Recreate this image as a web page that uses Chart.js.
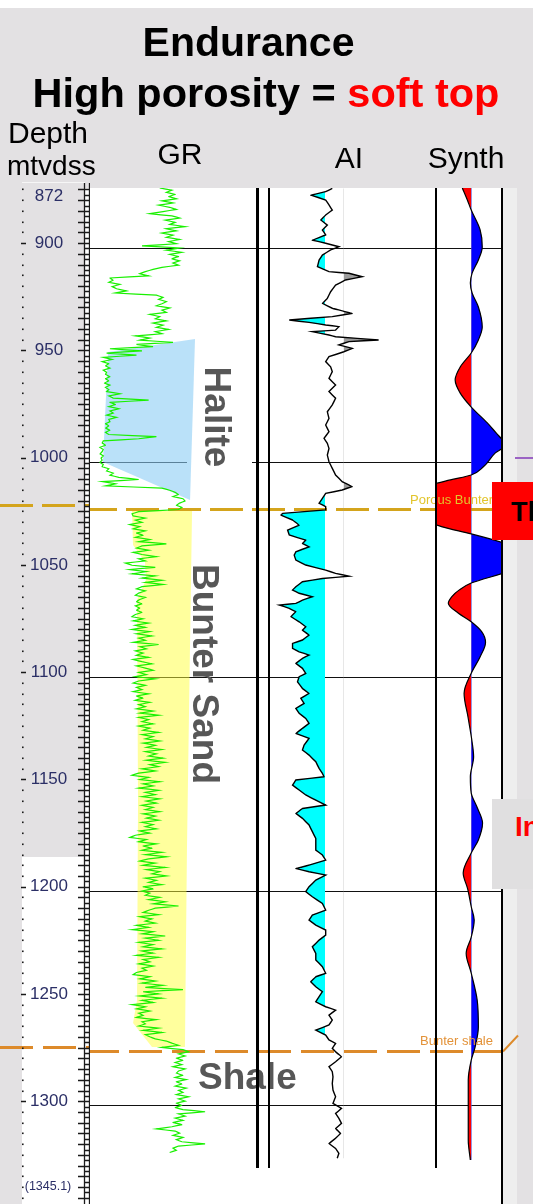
<!DOCTYPE html>
<html lang="en">
<head>
<meta charset="utf-8">
<title>Endurance – High porosity = soft top</title>
<script src="https://cdn.jsdelivr.net/npm/chart.js@4.4.1/dist/chart.umd.min.js"></script>
<style>
  html, body { margin: 0; padding: 0; }
  body { position: relative; width: 533px; height: 1204px; overflow: hidden; background: #e3e1e3;
         font-family: "Liberation Sans", Arial, Helvetica, sans-serif; color: #000; }
  .blk { position: absolute; }
  canvas { position: absolute; z-index: 1; }
  .txt { position: absolute; white-space: nowrap; line-height: 1; z-index: 2; }
  .vline { position: absolute; background: #000; z-index: 3; }
  .box { position: absolute; z-index: 4; overflow: hidden; }
</style>
</head>
<body>
<!-- page furniture -->
<div class="blk" style="left:0;top:0;width:533px;height:8px;background:#fff"></div>
<div class="blk" style="left:85px;top:188px;width:417px;height:1016px;background:#fff"></div>
<div class="blk" style="left:502px;top:188px;width:15px;height:1016px;background:#eeeeee"></div>
<div class="blk" style="left:22px;top:857px;width:63px;height:347px;background:#fff"></div>
<div class="blk" style="left:22px;top:182px;width:63px;height:1px;background:#f6f6f6"></div>

<!-- titles and track headers -->
<div class="txt" style="left:0;top:22px;width:497px;text-align:center;font-size:41px;font-weight:bold">Endurance</div>
<div class="txt" style="left:0;top:72px;width:532px;text-align:center;font-size:41.5px;font-weight:bold">High porosity = <span style="color:#ff0000">soft top</span></div>
<div class="txt" style="left:8px;top:118px;font-size:30px">Depth</div>
<div class="txt" style="left:7px;top:152px;font-size:28px">mtvdss</div>
<div class="txt" style="left:140px;top:139px;width:80px;text-align:center;font-size:30px">GR</div>
<div class="txt" style="left:309px;top:143px;width:80px;text-align:center;font-size:30px">AI</div>
<div class="txt" style="left:416px;top:143px;width:100px;text-align:center;font-size:30px">Synth</div>

<!-- log tracks -->
<canvas id="depthTrack" width="90" height="1204" style="left:0;top:0"></canvas>
<canvas id="grTrack" width="172" height="1016" style="left:90px;top:188px"></canvas>
<canvas id="aiTrack" width="175" height="1016" style="left:262px;top:188px"></canvas>
<canvas id="synthTrack" width="96" height="1016" style="left:437px;top:188px"></canvas>

<!-- zone and top labels -->
<div class="txt" style="left:198px;top:1058px;font-size:37px;font-weight:bold;color:#575757">Shale</div>
<div id="topLabel0" class="txt" style="left:410px;top:493px;font-size:13px;color:#e2c52c">Porous Bunter</div>
<div id="topLabel1" class="txt" style="left:420px;top:1035px;font-size:13px;color:#e39238">Bunter shale</div>

<!-- track frames -->
<div class="vline" style="left:256px;top:188px;width:2.5px;height:980px"></div>
<div class="vline" style="left:267.5px;top:188px;width:2.5px;height:980px"></div>
<div class="vline" style="left:434.5px;top:188px;width:2.5px;height:980px"></div>
<div class="vline" style="left:501px;top:188px;width:1.5px;height:1016px"></div>

<!-- side call-outs -->
<div class="box" style="left:515px;top:457px;width:18px;height:2px;background:#9b63c4"></div>
<div class="box" style="left:492px;top:482px;width:41px;height:58px;background:#ff0000">
  <div class="txt" style="left:19px;top:17px;font-size:27px;font-weight:bold;color:#000">Th</div>
</div>
<div class="box" style="left:492px;top:799px;width:41px;height:90px;background:#e0dfe0">
  <div class="txt" style="left:23px;top:14px;font-size:28px;font-weight:bold;color:#ff0000">In</div>
</div>

<script>
// ---- depth range of the display (m TVDSS) ----
const depthTop = 872;
const depthBottom = 1345.1;

// ---- formation tops ----
const topNames = ['Porous Bunter', 'Bunter shale'];
const topDepths = [1022, 1274.5];

// ---- gamma ray (API), one sample per metre starting at grStart ----
const grStart = 872;
const grStep = 1;
const grValues = [
  63, 74, 69, 77, 71, 78, 65, 75, 62, 72,
  78, 66, 54, 74, 81, 68, 77, 72, 86, 69,
  78, 65, 75, 69, 81, 71, 78, 47, 81, 69,
  83, 72, 80, 74, 81, 75, 80, 65, 57, 50,
  45, 53, 18, 21, 17, 27, 20, 24, 33, 23,
  60, 66, 62, 69, 65, 60, 72, 65, 69, 54,
  63, 59, 69, 57, 66, 60, 71, 59, 65, 41,
  54, 45, 75, 42, 57, 18, 47, 15, 42, 12,
  20, 11, 17, 14, 18, 12, 15, 14, 18, 14,
  17, 13, 18, 14, 17, 15, 27, 17, 21, 53,
  18, 23, 17, 26, 18, 21, 15, 24, 17, 18,
  14, 17, 14, 18, 14, 17, 60, 44, 12, 11,
  14, 9, 12, 11, 9, 12, 10, 11, 9, 12,
  11, 17, 15, 21, 18, 26, 44, 11, 23, 14,
  65, 72, 77, 80, 75, 84, 86, 81, 78, 83,
  80, 44, 38, 39, 50, 41, 47, 36, 45, 39,
  50, 42, 48, 41, 54, 44, 69, 47, 42, 53,
  39, 47, 60, 44, 50, 32, 38, 59, 36, 51,
  38, 59, 47, 65, 50, 66, 47, 42, 50, 44,
  41, 50, 45, 42, 47, 41, 45, 42, 47, 41,
  38, 48, 39, 53, 41, 50, 38, 54, 42, 56,
  44, 50, 39, 62, 45, 51, 41, 48, 42, 53,
  39, 47, 56, 42, 50, 57, 44, 51, 41, 59,
  44, 39, 50, 42, 47, 39, 53, 42, 48, 41,
  54, 44, 50, 42, 57, 45, 62, 44, 53, 47,
  57, 44, 54, 48, 62, 47, 57, 50, 63, 48,
  59, 51, 65, 50, 60, 53, 66, 51, 68, 54,
  62, 47, 59, 44, 38, 53, 45, 63, 48, 57,
  44, 62, 50, 59, 47, 63, 51, 60, 47, 57,
  50, 63, 48, 59, 51, 62, 47, 57, 50, 60,
  45, 54, 41, 36, 51, 44, 60, 48, 56, 47,
  65, 50, 69, 53, 45, 59, 48, 68, 51, 63,
  56, 69, 50, 60, 53, 65, 48, 57, 47, 54,
  50, 63, 53, 68, 57, 80, 59, 53, 48, 62,
  45, 56, 50, 59, 42, 53, 38, 57, 47, 68,
  50, 62, 44, 57, 48, 65, 47, 57, 42, 62,
  48, 54, 44, 57, 47, 51, 42, 39, 54, 45,
  59, 47, 66, 50, 84, 48, 62, 45, 65, 47,
  57, 38, 50, 42, 54, 44, 48, 42, 60, 47,
  50, 44, 62, 48, 65, 50, 54, 59, 69, 74,
  80, 65, 84, 89, 80, 86, 78, 84, 77, 83,
  75, 86, 80, 78, 84, 77, 87, 78, 83, 77,
  87, 80, 84, 78, 89, 80, 86, 78, 83, 77,
  84, 104, 80, 86, 77, 84, 75, 83, 74, 60,
  77, 81, 75, 84, 78, 83, 104, 80, 75, 78,
  72
];

// ---- acoustic impedance ----
const aiDepths = [
  872.2, 873.7, 875.3, 877.6, 879.9, 882.3, 884.6, 886.9, 889.3, 891.6,
  893.9, 896.3, 897.8, 899.4, 900.9, 903.3, 905.6, 908.7, 911.0, 911.8,
  913.4, 914.9, 917.3, 920.4, 923.5, 925.8, 928.1, 930.5, 932.0, 933.6,
  934.7, 935.9, 936.7, 938.3, 939.0, 940.6, 941.4, 942.9, 943.7, 945.2,
  946.8, 948.4, 950.7, 953.0, 955.4, 957.7, 960.8, 963.9, 967.0, 970.1,
  973.2, 976.4, 979.5, 982.6, 985.7, 988.8, 991.1, 993.5, 996.6, 999.7,
  1002.8, 1005.9, 1009.0, 1011.3, 1012.9, 1014.5, 1016.8, 1019.1, 1020.7, 1022.2,
  1023.8, 1024.6, 1026.9, 1029.3, 1031.6, 1033.9, 1036.3, 1037.8, 1039.4, 1041.7,
  1043.3, 1045.6, 1047.9, 1050.3, 1051.8, 1053.1, 1054.2, 1055.7, 1058.0, 1059.6,
  1061.1, 1062.7, 1064.3, 1065.8, 1066.6, 1068.1, 1069.7, 1072.0, 1074.4, 1076.7,
  1078.3, 1080.6, 1082.9, 1084.5, 1086.8, 1088.4, 1089.9, 1091.5, 1093.8, 1096.1,
  1098.5, 1100.0, 1102.4, 1105.5, 1107.8, 1110.1, 1112.5, 1114.8, 1117.1, 1119.5,
  1121.8, 1124.1, 1126.5, 1128.8, 1131.9, 1134.2, 1136.6, 1139.7, 1142.8, 1145.1,
  1146.7, 1148.2, 1150.6, 1152.9, 1155.2, 1157.6, 1159.9, 1161.5, 1163.8, 1166.1,
  1169.2, 1172.3, 1175.5, 1178.6, 1180.9, 1183.2, 1185.6, 1187.9, 1189.5, 1191.0,
  1192.6, 1194.9, 1198.0, 1200.3, 1202.7, 1205.8, 1208.9, 1211.2, 1213.6, 1215.9,
  1218.2, 1220.6, 1222.9, 1226.0, 1229.1, 1232.2, 1235.3, 1238.4, 1240.0, 1242.3,
  1244.7, 1247.0, 1249.3, 1251.7, 1254.0, 1255.6, 1257.9, 1260.2, 1262.5, 1264.9,
  1267.2, 1269.5, 1271.1, 1273.4, 1275.0, 1277.3, 1279.7, 1282.0, 1284.3, 1286.7,
  1289.8, 1292.9, 1296.0, 1299.1, 1301.4, 1303.8, 1306.1, 1308.4, 1310.8, 1313.1,
  1315.4, 1317.8, 1320.1, 1322.4, 1324.7
];
const aiValues = [
  6530, 6050, 4960, 6050, 6290, 6530, 6050, 5690, 6170, 5810,
  6050, 5080, 6050, 7010, 6410, 5810, 5570, 5450, 6290, 7740,
  8700, 7490, 6770, 6410, 6170, 5810, 6530, 7980, 6530, 3400,
  4840, 6050, 7010, 6770, 5080, 6290, 6770, 9900, 7740, 7010,
  7980, 7370, 6290, 6050, 6410, 6530, 6290, 6770, 6290, 6770,
  6530, 6170, 6290, 6050, 6290, 5930, 6170, 6290, 6170, 6290,
  6530, 6770, 7250, 7980, 7250, 6050, 5810, 5570, 6050, 6050,
  2920, 2800, 3640, 4120, 3280, 3400, 4600, 4360, 4840, 3880,
  3760, 3880, 4600, 6050, 6770, 7740, 5810, 4360, 3880, 3640,
  4120, 5080, 4360, 3880, 2680, 3400, 3880, 3520, 4120, 4600,
  4360, 4840, 4360, 3640, 3640, 4120, 4840, 4360, 3880, 4360,
  4600, 4120, 4000, 4360, 4840, 4240, 4480, 3880, 4120, 4600,
  4840, 4360, 3880, 4840, 4480, 4360, 4840, 5330, 5570, 5810,
  5930, 3880, 3640, 4120, 4600, 5330, 6050, 4360, 3880, 4360,
  4840, 5080, 5330, 5330, 5330, 5810, 6050, 4840, 3880, 4840,
  6050, 5330, 4840, 4600, 5080, 5810, 6050, 5080, 4840, 5330,
  6050, 6050, 5570, 5080, 5330, 5330, 5810, 6050, 5330, 4960,
  5330, 5810, 5570, 5330, 6050, 6770, 6290, 6530, 6290, 5330,
  6050, 6290, 6770, 6530, 6770, 7200, 6770, 6290, 6530, 6580,
  6530, 6580, 6770, 6580, 7200, 6770, 7010, 7200, 6770, 7130,
  6770, 6290, 6770, 7010, 6890
];
const aiSoftCutoff = 6000;   // shaded cyan below this
const aiHardCutoff = 7350;   // shaded grey above this

// ---- synthetic seismogram amplitude ----
const synthDepths = [
  872.0, 877.6, 882.3, 891.6, 899.5, 905.6, 911.7, 916.3, 921.0, 927.5,
  936.9, 942.9, 949.0, 955.5, 961.6, 967.7, 974.2, 981.6, 986.5, 989.6,
  992.0, 995.6, 1002.2, 1005.9, 1008.2, 1011.0, 1015.0, 1019.7, 1024.5, 1027.5,
  1030.0, 1033.4, 1037.6, 1041.0, 1044.6, 1048.5, 1051.6, 1056.3, 1059.5, 1062.6,
  1065.7, 1070.3, 1074.4, 1079.0, 1084.0, 1090.7, 1098.4, 1107.8, 1118.7, 1129.6,
  1137.4, 1146.7, 1154.3, 1160.7, 1168.3, 1176.2, 1182.3, 1191.6, 1199.0, 1207.3,
  1213.5, 1221.5, 1229.0, 1238.3, 1250.9, 1263.5, 1272.8, 1278.9, 1288.2, 1300.8,
  1316.2, 1325.5
];
const synthValues = [
  -0.30, -0.13, 0, 0.30, 0.37, 0.24, 0.03, -0.03, 0.03, 0.24,
  0.37, 0.24, 0, -0.37, -0.54, -0.37, 0, 0.54, 0.85, 1.05,
  1.15, 0.81, 0.40, 0, -0.70, -1.5, -2.3, -2.6, -2.2, -1.5,
  -1.0, 0, 1.1, 1.8, 2.0, 1.7, 1.1, 0, -0.40, -0.65,
  -0.77, -0.44, 0, 0.35, 0.48, 0.30, 0, -0.24, -0.11, 0.02,
  0.08, -0.03, 0, 0.19, 0.38, 0.24, 0, -0.27, -0.12, 0,
  0.10, 0, -0.17, 0, 0.20, 0.24, 0.13, 0, -0.10, -0.10,
  -0.10, -0.03
];

// ---- interpreted zones on the GR track, in (API, depth) ----
const haliteZone = [[16.3, 948.5], [94.9, 942.5], [90.4, 1017.6], [11.7, 999.8]];
const bunterSandZone = [[37.9, 1022.7], [92.2, 1022.7], [87.6, 1180.9], [85.8, 1272.8], [56.0, 1272.8],
  [38.9, 1261.6], [42.5, 1250.9], [43.4, 1157.6], [42.5, 1064.2], [50.6, 1054.9], [49.7, 1046.5], [38.9, 1038.6]];

// ---- styles ----
const topLineStyles = [
  { color: '#d4a41c', dash: [33, 9], width: 3 },
  { color: '#dd8a2a', dash: [33, 10], width: 3 }
];
const labelFont = '"Liberation Sans", Arial, sans-serif';

function strokeTops(ctx, yScale, x0, ends, pageLeft) {
  topDepths.forEach((d, i) => {
    const st = topLineStyles[i];
    const y = Math.round(yScale.getPixelForValue(d)) + 0.5;
    ctx.save();
    ctx.strokeStyle = st.color;
    ctx.lineWidth = st.width;
    ctx.setLineDash(st.dash);
    ctx.lineDashOffset = pageLeft + x0;
    ctx.beginPath();
    ctx.moveTo(x0, y);
    ctx.lineTo(ends[i], y);
    ctx.stroke();
    ctx.restore();
  });
}

// grid, zone shading, formation tops and rotated zone names for a track
const decor = {
  id: 'decor',
  beforeDatasetsDraw(chart, args, o) {
    const { ctx, scales: { x, y } } = chart;
    ctx.save();
    ctx.strokeStyle = '#111';
    ctx.lineWidth = 1;
    y.ticks.forEach(t => {
      if (t.value % 100) return;
      const py = Math.round(y.getPixelForValue(t.value)) + 0.5;
      ctx.beginPath(); ctx.moveTo(0, py); ctx.lineTo(o.gridTo, py); ctx.stroke();
    });
    (o.masks || []).forEach(r => { ctx.fillStyle = '#fff'; ctx.fillRect(r[0], r[1], r[2], r[3]); });
    (o.zones || []).forEach(z => {
      ctx.beginPath();
      z.points.forEach(([v, d], i) => {
        const px = x.getPixelForValue(v), py = y.getPixelForValue(d);
        if (i) ctx.lineTo(px, py); else ctx.moveTo(px, py);
      });
      ctx.closePath();
      ctx.fillStyle = z.color;
      ctx.fill();
    });
    if (o.zeroLine) {
      const zx = Math.round(x.getPixelForValue(0)) + 0.5;
      ctx.strokeStyle = 'rgba(120,140,215,0.55)';
      ctx.beginPath();
      ctx.moveTo(zx, y.getPixelForValue(o.zeroLine[0]));
      ctx.lineTo(zx, y.getPixelForValue(o.zeroLine[1]));
      ctx.stroke();
    }
    strokeTops(ctx, y, 0, o.topsTo, o.pageLeft);
    if (o.tail) {
      const ty = Math.round(y.getPixelForValue(topDepths[1])) + 0.5;
      ctx.strokeStyle = topLineStyles[1].color;
      ctx.lineWidth = 2;
      ctx.beginPath(); ctx.moveTo(o.tail[0], ty); ctx.lineTo(o.tail[1], ty - o.tail[2]); ctx.stroke();
    }
    (o.labels || []).forEach(l => {
      ctx.save();
      ctx.translate(l.x, l.y);
      ctx.rotate(Math.PI / 2);
      ctx.font = 'bold 37px ' + labelFont;
      ctx.fillStyle = '#575757';
      ctx.textAlign = 'center';
      ctx.textBaseline = 'alphabetic';
      ctx.fillText(l.text, 0, 0);
      ctx.restore();
    });
    ctx.restore();
  }
};

// wiggle shading between a curve and a cut-off value, on one side only
const wiggleFill = {
  id: 'wiggleFill',
  beforeDatasetDraw(chart, args) {
    const ds = chart.data.datasets[args.index];
    if (!ds.wiggle) return;
    const meta = args.meta;
    const line = meta.dataset;
    const pts = meta.data;
    const area = chart.chartArea;
    const ctx = chart.ctx;
    line.updateControlPoints(area, meta.iScale.axis);
    ds.wiggle.forEach(w => {
      const bx = chart.scales.x.getPixelForValue(w.base);
      ctx.save();
      ctx.beginPath();
      if (w.side === 'left') ctx.rect(area.left, area.top, bx - area.left, area.bottom - area.top);
      else ctx.rect(bx, area.top, area.right - bx, area.bottom - area.top);
      ctx.clip();
      ctx.beginPath();
      line.path(ctx);
      ctx.lineTo(bx, pts[pts.length - 1].y);
      ctx.lineTo(bx, pts[0].y);
      ctx.closePath();
      ctx.fillStyle = w.color;
      ctx.fill();
      ctx.restore();
    });
  }
};

// depth ruler: tick marks, ladder and labels
const depthRuler = {
  id: 'depthRuler',
  afterDraw(chart) {
    const { ctx } = chart;
    const ys = chart.scales.y;
    const vals = ys.ticks.map(t => t.value);
    ctx.save();
    strokeTops(ctx, ys, 0, [chart.width, chart.width], 0);
    ctx.strokeStyle = '#1a1a1a';
    ctx.lineWidth = 1.3;
    ctx.beginPath();
    ctx.moveTo(84.5, ys.top); ctx.lineTo(84.5, chart.height);
    ctx.moveTo(89.5, ys.top); ctx.lineTo(89.5, chart.height);
    vals.forEach((v, i) => {
      const y = ys.getPixelForValue(v);
      const yr = Math.round(y) + 0.5;
      ctx.moveTo(78, yr); ctx.lineTo(89.5, yr);
      if (i + 1 < vals.length) {
        const ym = Math.round((y + ys.getPixelForValue(vals[i + 1])) / 2) + 0.5;
        ctx.moveTo(84.5, ym); ctx.lineTo(89.5, ym);
      }
      if (v % 50 === 0) { ctx.moveTo(21, yr); ctx.lineTo(26, yr); }
    });
    ctx.stroke();
    ctx.fillStyle = '#1a1a1a';
    vals.forEach(v => {
      if (v % 50 === 0) return;
      ctx.fillRect(22, Math.round(ys.getPixelForValue(v)) - 0.5, 1.6, 1.6);
    });
    ctx.fillStyle = '#2b2f66';
    ctx.textAlign = 'center';
    ctx.textBaseline = 'middle';
    ctx.font = '17px ' + labelFont;
    vals.forEach(v => {
      if (v % 50 === 0) ctx.fillText(String(v), 49, ys.getPixelForValue(v));
    });
    ctx.fillText(String(depthTop), 49, Math.max(ys.getPixelForValue(depthTop), ys.top + 13));
    ctx.font = '12.5px ' + labelFont;
    ctx.fillText('(' + depthBottom + ')', 48, Math.min(ys.getPixelForValue(depthBottom), ys.bottom - 11));
    ctx.restore();
  }
};

function depthScale(step, extraTicks) {
  return {
    type: 'linear', min: depthTop, max: depthBottom, reverse: true,
    ticks: Object.assign({ display: false, stepSize: step }, extraTicks || {}),
    grid: { display: false, drawTicks: false },
    border: { display: false }
  };
}

function trackChart(id, xMin, xMax, padding, datasets, decorOptions) {
  return new Chart(document.getElementById(id), {
    type: 'line',
    data: { datasets },
    options: {
      responsive: false, animation: false, events: [], indexAxis: 'y',
      layout: { padding },
      scales: {
        x: { type: 'linear', min: xMin, max: xMax, display: false },
        y: depthScale(100)
      },
      elements: { point: { radius: 0 } },
      plugins: { legend: { display: false }, tooltip: { enabled: false }, decor: decorOptions }
    },
    plugins: [decor, wiggleFill]
  });
}

// depth ruler
new Chart(document.getElementById('depthTrack'), {
  type: 'line',
  data: { datasets: [] },
  options: {
    responsive: false, animation: false, events: [], indexAxis: 'y',
    layout: { padding: { top: 183, bottom: 6, left: 0, right: 0 } },
    scales: {
      x: { type: 'linear', min: 0, max: 1, display: false },
      y: depthScale(5, { includeBounds: false, maxTicksLimit: 1000 })
    },
    plugins: { legend: { display: false }, tooltip: { enabled: false } }
  },
  plugins: [depthRuler]
});

// GR track
trackChart('grTrack', 0, 150, { left: 0, right: 6, top: 0, bottom: 2 }, [{
  data: grValues.map((v, i) => ({ x: v, y: grStart + i * grStep })),
  borderColor: '#19f000', borderWidth: 1.2, tension: 0.0001, pointRadius: 0
}], {
  pageLeft: 90, gridTo: 172, topsTo: [172, 172],
  masks: [[97, 172, 65, 110]],
  zones: [
    { points: haliteZone, color: 'rgba(140,205,245,0.6)' },
    { points: bunterSandZone, color: 'rgba(255,255,60,0.5)' }
  ],
  labels: [
    { text: 'Halite', x: 115, y: 229 },
    { text: 'Bunter Sand', x: 103, y: 486 }
  ]
});

// AI track
trackChart('aiTrack', 2000, 14000, { left: 8, right: 2, top: 0, bottom: 2 }, [{
  data: aiValues.map((v, i) => ({ x: v, y: aiDepths[i] })),
  borderColor: '#000', borderWidth: 1.4, tension: 0.0001, pointRadius: 0,
  wiggle: [
    { base: aiSoftCutoff, side: 'left', color: '#00ffff' },
    { base: aiHardCutoff, side: 'right', color: '#9c9c9c' }
  ]
}], { pageLeft: 262, gridTo: 175, topsTo: [175, 175] });

// synthetic track
const synthChart = trackChart('synthTrack', -1.15, 1.0, { left: 0, right: 32, top: 0, bottom: 2 }, [{
  data: synthValues.map((v, i) => ({ x: v, y: synthDepths[i] })),
  borderColor: '#000', borderWidth: 1.2, cubicInterpolationMode: 'monotone', pointRadius: 0,
  wiggle: [
    { base: 0, side: 'left', color: '#ff0000' },
    { base: 0, side: 'right', color: '#0000ff' }
  ]
}], {
  pageLeft: 437, gridTo: 64, topsTo: [96, 66], tail: [66, 81, 16],
  zeroLine: [synthDepths[0], synthDepths[synthDepths.length - 1]]
});

// place the formation-top names just above their lines
const sy = synthChart.scales.y;
topNames.forEach((name, i) => {
  const el = document.getElementById('topLabel' + i);
  el.textContent = name;
  el.style.top = (188 + sy.getPixelForValue(topDepths[i]) - 16.5) + 'px';
});
</script>
</body>
</html>
